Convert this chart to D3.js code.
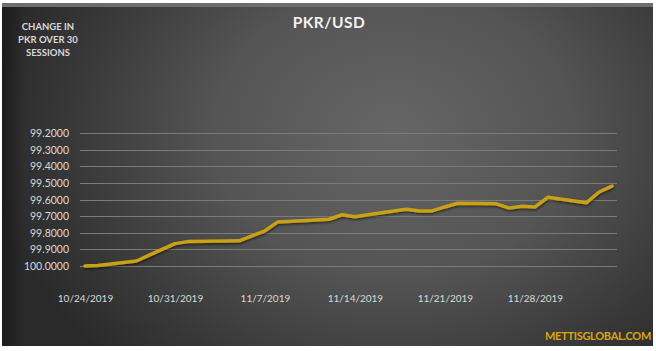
<!DOCTYPE html>
<html>
<head>
<meta charset="utf-8">
<script src="https://cdn.jsdelivr.net/npm/d3@7"></script>
<style>
  body { margin: 0; background: #ffffff; }
  svg { display: block; }
</style>
</head>
<body>
<svg width="656" height="351"></svg>
<script>
// Data (30 sessions)
var dates = ["2019-10-24", "2019-10-25", "2019-10-28", "2019-10-29", "2019-10-30",
  "2019-10-31", "2019-11-01", "2019-11-04", "2019-11-05", "2019-11-06",
  "2019-11-07", "2019-11-08", "2019-11-11", "2019-11-12", "2019-11-13",
  "2019-11-14", "2019-11-15", "2019-11-18", "2019-11-19", "2019-11-20",
  "2019-11-21", "2019-11-22", "2019-11-25", "2019-11-26", "2019-11-27",
  "2019-11-28", "2019-11-29", "2019-12-02", "2019-12-03", "2019-12-04"];
var values = [100.000, 99.997, 99.970, 99.935, 99.900,
  99.865, 99.853, 99.850, 99.848, 99.818,
  99.788, 99.734, 99.723, 99.718, 99.691,
  99.703, 99.691, 99.658, 99.668, 99.668,
  99.644, 99.622, 99.625, 99.651, 99.640,
  99.645, 99.586, 99.619, 99.554, 99.518];
var yTicks = [99.2, 99.3, 99.4, 99.5, 99.6, 99.7, 99.8, 99.9, 100.0];
var xTicks = ["2019-10-24", "2019-10-31", "2019-11-07", "2019-11-14", "2019-11-21", "2019-11-28"];
var titleText = "PKR/USD";
var sideLabel = ["CHANGE IN", "PKR OVER 30", "SESSIONS"];
var sourceText = "METTISGLOBAL.COM";

var parse = d3.timeParse("%Y-%m-%d");
var data = dates.map(function(d, i) { return { date: parse(d), value: values[i] }; });

var svg = d3.select("svg");
var defs = svg.append("defs");

// Background gradient (dark radial, lighter toward upper centre-right)
var bg = defs.append("radialGradient")
  .attr("id", "bg")
  .attr("cx", "0.6").attr("cy", "0.38")
  .attr("r", "0.62")
  .attr("gradientTransform", "translate(0.6,0.38) scale(1,1.5) translate(-0.6,-0.38)");
bg.append("stop").attr("offset", "0").attr("stop-color", "#666666");
bg.append("stop").attr("offset", "0.45").attr("stop-color", "#545454");
bg.append("stop").attr("offset", "0.8").attr("stop-color", "#383838");
bg.append("stop").attr("offset", "1").attr("stop-color", "#2a2a2a");

var leftEdge = defs.append("linearGradient").attr("id", "leftEdge");
leftEdge.append("stop").attr("offset", "0").attr("stop-color", "#1c1c1c").attr("stop-opacity", 1);
leftEdge.append("stop").attr("offset", "1").attr("stop-color", "#1c1c1c").attr("stop-opacity", 0);

var shadow = defs.append("filter").attr("id", "shadow")
  .attr("x", "-5%").attr("y", "-20%").attr("width", "110%").attr("height", "140%");
shadow.append("feDropShadow")
  .attr("dx", 0.5).attr("dy", 1.5).attr("stdDeviation", 1)
  .attr("flood-color", "#000").attr("flood-opacity", 0.55);

svg.append("rect")
  .attr("x", 2).attr("y", 3)
  .attr("width", 651).attr("height", 343)
  .attr("fill", "url(#bg)");
svg.append("rect")
  .attr("x", 2).attr("y", 3)
  .attr("width", 22).attr("height", 343)
  .attr("fill", "url(#leftEdge)");
// light bevel along the top
svg.append("rect")
  .attr("x", 2).attr("y", 3)
  .attr("width", 651).attr("height", 4)
  .attr("fill", "#6e6e6e");

// Scales
var x = d3.scaleTime()
  .domain([parse("2019-10-24"), parse("2019-12-04")])
  .range([85, 612]);
var y = d3.scaleLinear()
  .domain([99.2, 100.0])
  .range([133.3, 266]);

// Gridlines
svg.append("g")
  .selectAll("line")
  .data(yTicks)
  .enter().append("line")
    .attr("x1", 80).attr("x2", 617)
    .attr("y1", function(d) { return Math.round(y(d)) + 0.5; })
    .attr("y2", function(d) { return Math.round(y(d)) + 0.5; })
    .attr("stroke", "#7b7b7b")
    .attr("stroke-width", 1);

// Y axis labels
var yAxis = d3.axisLeft(y)
  .tickValues(yTicks)
  .tickFormat(d3.format(".4f"))
  .tickSize(0)
  .tickPadding(0);
svg.append("g")
  .attr("transform", "translate(69,0)")
  .call(yAxis)
  .call(function(g) { g.select(".domain").remove(); })
  .selectAll("text")
    .attr("fill", "#d9d9d9")
    .style("font-family", "Lato, 'Open Sans', sans-serif")
    .style("font-size", "10.5px");

// X axis labels
var xAxis = d3.axisBottom(x)
  .tickValues(xTicks.map(parse))
  .tickFormat(d3.timeFormat("%-m/%-d/%Y"))
  .tickSize(0)
  .tickPadding(0);
svg.append("g")
  .attr("transform", "translate(0,295)")
  .call(xAxis)
  .call(function(g) { g.select(".domain").remove(); })
  .selectAll("text")
    .attr("fill", "#d9d9d9")
    .style("font-family", "Lato, 'Open Sans', sans-serif")
    .style("font-size", "10px");

// The line
var line = d3.line()
  .x(function(d) { return x(d.date); })
  .y(function(d) { return y(d.value); });
svg.append("path")
  .datum(data)
  .attr("d", line)
  .attr("fill", "none")
  .attr("stroke", "#c9a116")
  .attr("stroke-width", 3.5)
  .attr("stroke-linejoin", "round")
  .attr("stroke-linecap", "round")
  .attr("filter", "url(#shadow)");

// Title
svg.append("text")
  .attr("x", 329).attr("y", 28)
  .attr("text-anchor", "middle")
  .attr("fill", "#f2f2f2")
  .style("font-family", "Lato, 'Open Sans', sans-serif")
  .style("font-weight", "bold")
  .style("font-size", "15.5px")
  .style("letter-spacing", "0.5px")
  .text(titleText);

// Side label
svg.append("g")
  .selectAll("text")
  .data(sideLabel)
  .enter().append("text")
    .attr("x", 48)
    .attr("y", function(d, i) { return 30 + i * 13; })
    .attr("text-anchor", "middle")
    .attr("fill", "#d9d9d9")
    .style("font-family", "Lato, 'Open Sans', sans-serif")
    .style("font-weight", "bold")
    .style("font-size", "9.5px")
    .text(function(d) { return d; });

// Source
svg.append("text")
  .attr("x", 651).attr("y", 340)
  .attr("text-anchor", "end")
  .attr("fill", "#d9a514")
  .style("font-family", "Lato, 'Open Sans', sans-serif")
  .style("font-weight", "bold")
  .style("font-size", "11px")
  .style("letter-spacing", "-0.3px")
  .text(sourceText);
</script>
</body>
</html>
